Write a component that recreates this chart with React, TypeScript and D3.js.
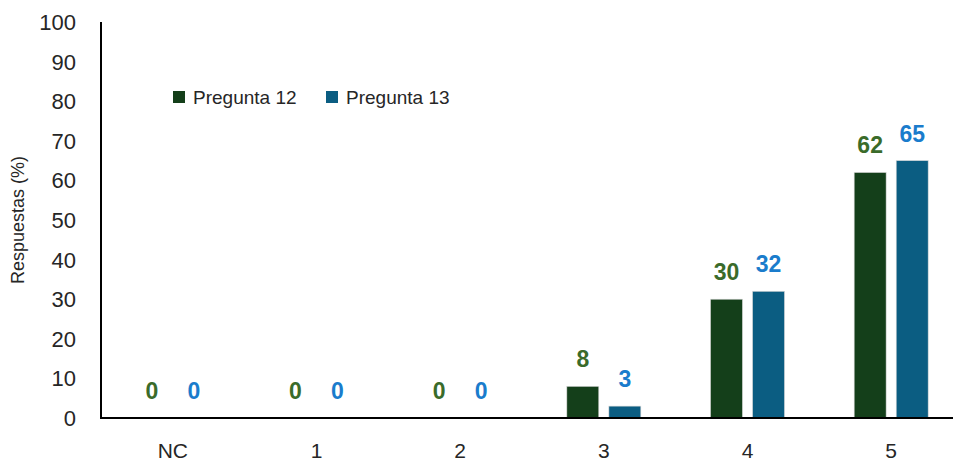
import React from 'react';
import * as d3 from 'd3';

const categories = ['NC', '1', '2', '3', '4', '5'];
const pregunta12 = [0, 0, 0, 8, 30, 62];
const pregunta13 = [0, 0, 0, 3, 32, 65];
const yTicks = [0, 10, 20, 30, 40, 50, 60, 70, 80, 90, 100];
const seriesNames = ['Pregunta 12', 'Pregunta 13'];

const W = 953;
const H = 463;
const FONT = '"Liberation Sans", Arial, sans-serif';

export default function App() {
  const left = 101;
  const top = 22;
  const bottom = 418;

  const x = d3.scaleBand<string>().domain(categories).range([left, 963]);
  const inner = d3.scaleBand<string>().domain(seriesNames).range([-37, 37]).paddingInner(0.24);
  const y = d3.scaleLinear().domain([0, 100]).range([bottom, top]);

  const barColors = ['#143f1a', '#0b5d82'];
  const labelColors = ['#3a6b2a', '#1a7ccc'];
  const series = [pregunta12, pregunta13];

  return (
    <svg width={W} height={H} style={{ position: 'absolute', left: 0, top: 0, background: '#fff' }} fontFamily={FONT}>
      {/* y tick labels */}
      {yTicks.map((t) => (
        <text key={t} x={76} y={y(t)} dy="0.36em" textAnchor="end" fontSize={22} fill="#262626">
          {t}
        </text>
      ))}

      {/* axis title */}
      <text
        transform={`translate(24,${(top + bottom) / 2}) rotate(-90)`}
        textAnchor="middle"
        fontSize={18}
        fill="#262626"
      >
        Respuestas (%)
      </text>

      {/* bars */}
      {series.map((vals, si) =>
        categories.map((c, i) => {
          const cx = x(c)! + x.bandwidth() / 2;
          const bx = cx + inner(seriesNames[si])!;
          const bw = inner.bandwidth();
          const v = vals[i];
          return (
            <g key={`${si}-${c}`}>
              {v > 0 && (
                <rect
                  x={bx}
                  y={y(v)}
                  width={bw}
                  height={y(0) - y(v)}
                  fill={barColors[si]}
                  stroke="#d9d9d9"
                  strokeWidth={0.6}
                />
              )}
              <text
                x={bx + bw / 2}
                y={y(v) - 19}
                textAnchor="middle"
                fontSize={23}
                fontWeight="bold"
                fill={labelColors[si]}
              >
                {v}
              </text>
            </g>
          );
        })
      )}

      {/* axes */}
      <line x1={left} x2={left} y1={top} y2={bottom + 1} stroke="#000" strokeWidth={2} />
      <line x1={left} x2={W} y1={bottom} y2={bottom} stroke="#000" strokeWidth={2} />

      {/* x labels */}
      {categories.map((c) => (
        <text
          key={c}
          x={x(c)! + x.bandwidth() / 2}
          y={458}
          textAnchor="middle"
          fontSize={21}
          fill="#262626"
        >
          {c}
        </text>
      ))}

      {/* legend */}
      {seriesNames.map((n, i) => {
        const lx = i === 0 ? 173 : 326;
        return (
          <g key={n}>
            <rect x={lx} y={91} width={12} height={12} fill={barColors[i]} />
            <text x={lx + 20} y={97} dy="0.36em" fontSize={19} fill="#262626">
              {n}
            </text>
          </g>
        );
      })}
    </svg>
  );
}
